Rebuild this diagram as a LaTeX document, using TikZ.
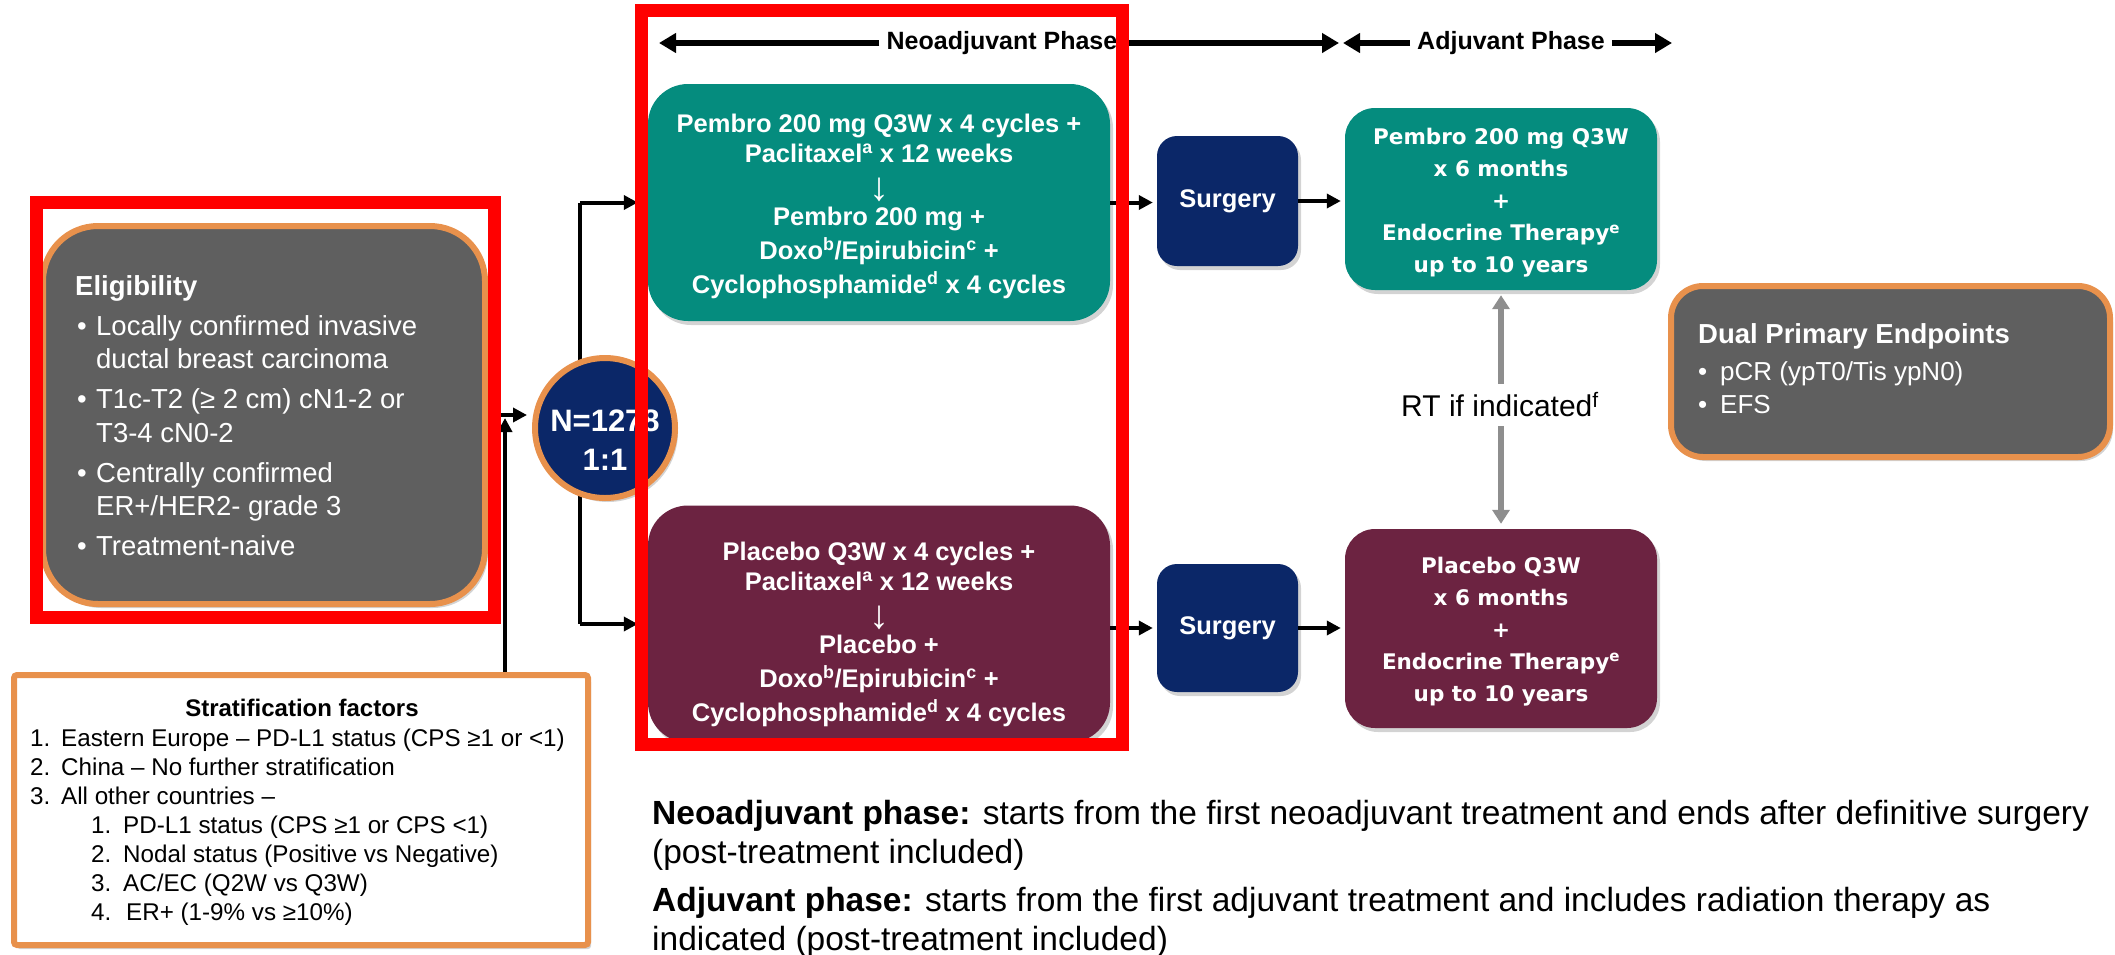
\documentclass[tikz,border=0pt]{standalone}
\usepackage{fontspec}
\setmainfont{Liberation Sans}
\newfontfamily\verd{DejaVu Sans}
\usetikzlibrary{arrows.meta,shadows,calc}
\newcommand\setfs[2]{\fontsize{#1}{#2}\selectfont}
\newcommand\downarr{{\mdseries\setfs{40}{33}↓}}
\definecolor{tealbx}{HTML}{058C7E}
\definecolor{maroonbx}{HTML}{6C2341}
\definecolor{navybx}{HTML}{0B2768}
\definecolor{greybx}{HTML}{5F5F5F}
\definecolor{orangebx}{HTML}{E8914C}
\definecolor{rtgrey}{HTML}{8E8E8E}
\begin{document}
\begin{tikzpicture}[x=1pt,y=-1pt,
  shd/.style={drop shadow={shadow xshift=3pt,shadow yshift=-4pt,opacity=0.35}},
  neobox/.style={shd, rounded corners=40pt, minimum width=462pt, minimum height=237pt,
    text=white, align=center, font=\bfseries\setfs{25.5}{33}, inner sep=0pt},
  surgbox/.style={shd, fill=navybx, rounded corners=20pt, minimum width=141pt,
    minimum height=130pt, text=white, font=\bfseries\setfs{25.5}{30}},
  adjbox/.style={shd, rounded corners=30pt, minimum width=312pt, text=white,
    align=center, font=\verd\bfseries\setfs{21.5}{32}, inner sep=0pt},
  greybox/.style={shd, fill=greybx, draw=orangebx, line width=6pt},
  conn/.style={line width=4pt, black},
  arr/.style={conn, -{Triangle[length=14pt,width=14pt]}},
  hdrarr/.style={line width=6pt, -{Triangle[length=17pt,width=19pt]}},
  redbox/.style={draw=red, line width=13pt},
  rtarr/.style={draw=rtgrey, line width=6pt, -{Triangle[length=14pt,width=17pt]}},
  hdr/.style={font=\bfseries\setfs{25}{30}, inner xsep=7pt, inner ysep=0pt}
]
\useasboundingbox (0,0) rectangle (2115,954);

% header phases
\node[hdr] (neoh) at (1002,43) {Neoadjuvant Phase};
\node[hdr] (adjh) at (1511,43) {Adjuvant Phase};
\coordinate (nl) at (659,43);
\coordinate (nr) at (1339,43);
\coordinate (al) at (1343,43);
\coordinate (ar) at (1672,43);
\draw[hdrarr] (neoh.west) -- (nl);
\draw[hdrarr] (neoh.east) -- (nr);
\draw[hdrarr] (adjh.west) -- (al);
\draw[hdrarr] (adjh.east) -- (ar);

% stratification box
\node[shd, draw=orangebx, fill=white, line width=6pt, rounded corners=3pt,
  minimum width=574pt, minimum height=270pt] (strat) at (301,810) {};
\node[anchor=base, font=\bfseries\setfs{24}{29}] (strath) at (302,716) {Stratification factors};
\node[anchor=base west, inner sep=0pt] (stratl) at (30,746) {\parbox[t]{560pt}{\setfs{24.2}{29}\raggedright
\makebox[31pt][l]{1.}Eastern Europe – PD-L1 status (CPS ≥1 or <1)\\
\makebox[31pt][l]{2.}China – No further stratification\\
\makebox[31pt][l]{3.}All other countries –\\
\hspace*{61pt}\makebox[32pt][l]{1.}PD-L1 status (CPS ≥1 or CPS <1)\\
\hspace*{61pt}\makebox[32pt][l]{2.}Nodal status (Positive vs Negative)\\
\hspace*{61pt}\makebox[32pt][l]{3.}AC/EC (Q2W vs Q3W)\\
\hspace*{61pt}\makebox[35pt][l]{4.}ER+ (1-9\% vs ≥10\%)}};

% eligibility box
\node[greybox, rounded corners=55pt, minimum width=442pt, minimum height=378pt] (elig) at (264,415) {};
\node[anchor=base west, inner sep=0pt, text=white] (eligt) at (75,295) {\parbox[t]{410pt}{\setfs{27.5}{33.5}\raggedright
\textbf{Eligibility}\\[6.5pt]
\makebox[21pt][l]{\hspace{2pt}•}Locally confirmed invasive\\
\hspace*{21pt}ductal breast carcinoma\\[6.5pt]
\makebox[21pt][l]{\hspace{2pt}•}T1c-T2 (≥ 2 cm) cN1-2 or\\
\hspace*{21pt}T3-4 cN0-2\\[6.5pt]
\makebox[21pt][l]{\hspace{2pt}•}Centrally confirmed\\
\hspace*{21pt}ER+/HER2- grade 3\\[6.5pt]
\makebox[21pt][l]{\hspace{2pt}•}Treatment-naive}};

% bracket and connectors
\coordinate (bt) at (580,202.5);
\coordinate (bb) at (580,624);
\coordinate (jn) at (505,415);
\draw[conn] (bt) -- (bb);

% circle
\node[circle, shd, fill=navybx, draw=orangebx, line width=6pt, minimum size=140pt, inner sep=0pt,
  text=white, align=center, font=\bfseries\setfs{31}{39}] (circ) at (605,428) {\rule{0pt}{46pt}N=1278\\1:1};
\draw[arr, shorten >=5pt] (elig.east) -- (elig.east -| circ.west);
\draw[arr, shorten >=3pt] (jn |- strat.north) -- (jn);

% neoadjuvant boxes
\node[neobox, fill=tealbx] (neo1) at (879,202.5) {\rule{0pt}{25.6pt}Pembro 200 mg Q3W x 4 cycles +\\[-3pt]
Paclitaxel\textsuperscript{a} x 12 weeks\\[5pt]
\downarr\\[-8pt]
Pembro 200 mg +\\[1pt]
Doxo\textsuperscript{b}/Epirubicin\textsuperscript{c} +\\[1pt]
Cyclophosphamide\textsuperscript{d} x 4 cycles};
\node[neobox, fill=maroonbx] (neo2) at (879,624) {\rule{0pt}{38.6pt}Placebo Q3W x 4 cycles +\\[-3pt]
Paclitaxel\textsuperscript{a} x 12 weeks\\[5pt]
\downarr\\[-8pt]
Placebo +\\[1pt]
Doxo\textsuperscript{b}/Epirubicin\textsuperscript{c} +\\[1pt]
Cyclophosphamide\textsuperscript{d} x 4 cycles};
\draw[arr, shorten >=10pt] (bt) -- (neo1.west);
\draw[arr, shorten >=10pt] (bb) -- (neo2.west);

% surgery
\node[surgbox] (surg1) at (1227.5,201) {Surgery};
\node[surgbox, minimum height=128pt] (surg2) at (1227.5,628) {Surgery};
\draw[arr, shorten >=4pt] (neo1.east) -- (neo1.east -| surg1.west);
\draw[arr, shorten >=4pt] (surg2.west -| neo2.east) -- (surg2.west);

% adjuvant boxes
\node[adjbox, fill=tealbx, minimum height=182pt] (adj1) at (1501,199) {\rule{0pt}{24pt}Pembro 200 mg Q3W\\
x 6 months\\ +\\ Endocrine Therapy\textsuperscript{e}\\ up to 10 years};
\node[adjbox, fill=maroonbx, minimum height=199pt] (adj2) at (1501,628.5) {\rule{0pt}{22pt}Placebo Q3W\\
x 6 months\\ +\\ Endocrine Therapy\textsuperscript{e}\\ up to 10 years};
\draw[arr, shorten >=4pt] (surg1.east) -- (surg1.east -| adj1.west);
\draw[arr, shorten >=4pt] (surg2.east) -- (surg2.east -| adj2.west);

% RT
\node[font=\setfs{30}{32}, inner xsep=0pt, inner ysep=9pt] (rt) at (1500,405) {RT if indicated\textsuperscript{f}};
\draw[rtarr, shorten >=5pt] (adj1.south |- rt.north) -- (adj1.south);
\draw[rtarr, shorten >=5pt] (adj1.south |- rt.south) -- (adj1.south |- adj2.north);

% dual primary endpoints
\node[greybox, rounded corners=32pt, minimum width=439pt, minimum height=171pt] (dual) at (1890.5,371.5) {};
\node[anchor=base west, inner sep=0pt, text=white] (dualt) at (1698,343) {\parbox[t]{400pt}{\setfs{26}{33}\raggedright
{\setfs{27.5}{33}\textbf{Dual Primary Endpoints}}\\[4pt]
\makebox[22pt][l]{•}pCR (ypT0/Tis ypN0)\\
\makebox[22pt][l]{•}EFS}};

% bottom notes
\node[anchor=base west, inner sep=0pt] (notes) at (652,824) {\parbox[t]{1600pt}{\setfs{33.5}{39}\raggedright
\textbf{Neoadjuvant phase:} starts from the first neoadjuvant treatment and ends after definitive surgery\\
(post-treatment included)\\[9pt]
\textbf{Adjuvant phase:} starts from the first adjuvant treatment and includes radiation therapy as\\
indicated (post-treatment included)}};

% red highlight frames
\draw[redbox] (36,202) rectangle (494,617);
\draw[redbox] (641,10) rectangle (1122,744);
\end{tikzpicture}
\end{document}
